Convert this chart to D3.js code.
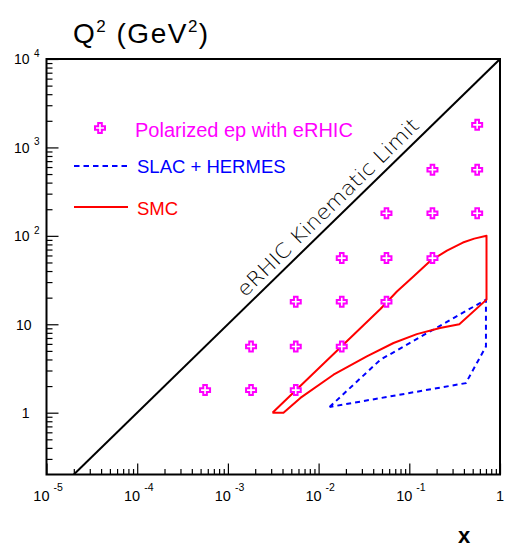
<!DOCTYPE html>
<html lang="en">
<head>
    <meta charset="UTF-8">
    <title>eRHIC kinematic coverage</title>
    <script src="https://d3js.org/d3.v7.min.js"></script>
    <style>
        body { margin: 0; background: #fff; }
        svg { font-family: "Liberation Sans", Arial, sans-serif; display: block; }
    </style>
</head>
<body>
    <svg id="chart" width="507" height="548"></svg>

    <script>
        // ---- data ----
        const xMajor = [1e-5, 1e-4, 1e-3, 1e-2, 1e-1, 1];
        const xLabelBase = ["10", "10", "10", "10", "10", "1"];
        const xLabelExp = ["-5", "-4", "-3", "-2", "-1", ""];

        const yMajor = [1, 10, 100, 1000, 10000];
        const yLabelBase = ["1", "10", "10", "10", "10"];
        const yLabelExp = ["", "", "2", "3", "4"];

        // eRHIC projected points (open crosses)
        const erhicX = [5.6e-4, 1.8e-3, 5.6e-3,
                        1.8e-3, 5.6e-3, 0.018,
                        5.6e-3, 0.018, 0.056,
                        0.018, 0.056, 0.18,
                        0.056, 0.18, 0.56,
                        0.18, 0.56,
                        0.56];
        const erhicQ2 = [1.8, 1.8, 1.8,
                         5.6, 5.6, 5.6,
                         18, 18, 18,
                         56, 56, 56,
                         180, 180, 180,
                         560, 560,
                         1800];

        // SMC region outline
        const smcX = [3.1e-3, 4.1e-3, 6.3e-3, 0.0146, 0.034, 0.067, 0.121, 0.218, 0.356, 0.71,
                      0.71, 0.52, 0.39, 0.26, 0.17, 0.111, 0.073, 0.048, 3.1e-3];
        const smcQ2 = [1.0, 1.0, 1.47, 2.69, 4.33, 6.14, 7.74, 9.06, 10.0, 19,
                       100, 93, 84, 68, 52, 34.7, 23.5, 14.9, 1.0];

        // SLAC + HERMES region outline
        const slacX = [0.0132, 0.048, 0.70, 0.70, 0.42, 0.0132];
        const slacQ2 = [1.16, 3.97, 19, 5.6, 2.16, 1.16];

        // kinematic limit Q2 = s * x
        const sEP = 1e4;
        const limitX = [2e-5, 1];

        const legendLabels = ["Polarized ep with eRHIC", "SLAC + HERMES", "SMC"];

        // ---- layout ----
        const svg = d3.select("#chart");
        const pLeft = 46.5, pRight = 500, pTop = 59, pBottom = 474.5;

        const x = d3.scaleLog().domain([1e-5, 1]).range([pLeft, pRight]);
        const y = d3.scaleLog().domain([0.2, 1e4]).range([pBottom, pTop]);

        const magenta = "#ff00ff", blue = "#0000ff", red = "#ff0000";

        // minor ticks 2..9 per decade
        const minors = (lo, hi) => {
            const out = [];
            for (let e = Math.floor(Math.log10(lo)); e < Math.ceil(Math.log10(hi)); e++)
                for (let k = 2; k <= 9; k++) {
                    const v = k * Math.pow(10, e);
                    if (v > lo * 1.01 && v < hi * 0.99) out.push(v);
                }
            return out;
        };

        // ---- axes (ticks inward) ----
        const gx = svg.append("g").attr("transform", `translate(0,${pBottom})`);
        gx.append("g").call(d3.axisBottom(x).tickValues(minors(1e-5, 1)).tickSize(-5.5).tickFormat(""));
        gx.append("g").call(d3.axisBottom(x).tickValues(xMajor).tickSize(-11).tickFormat(""));

        const gy = svg.append("g").attr("transform", `translate(${pLeft},0)`);
        gy.append("g").call(d3.axisLeft(y).tickValues(minors(0.2, 1e4)).tickSize(-6).tickFormat(""));
        gy.append("g").call(d3.axisLeft(y).tickValues(yMajor).tickSize(-12).tickFormat(""));

        svg.selectAll(".domain").remove();
        svg.selectAll(".tick line").attr("stroke", "#000").attr("stroke-width", 1.2);

        // frame
        svg.append("rect")
            .attr("x", pLeft).attr("y", pTop)
            .attr("width", pRight - pLeft).attr("height", pBottom - pTop)
            .attr("fill", "none").attr("stroke", "#000").attr("stroke-width", 2);

        // x tick labels
        xMajor.forEach((v, i) => {
            const px = x(v);
            if (xLabelExp[i]) {
                svg.append("text").attr("x", px + 3).attr("y", 500.7)
                    .attr("text-anchor", "end").attr("font-size", 14.5).text(xLabelBase[i]);
                svg.append("text").attr("x", px + 7).attr("y", 490.7)
                    .attr("font-size", 10.5).text(xLabelExp[i]);
            } else {
                svg.append("text").attr("x", px).attr("y", 500.7)
                    .attr("text-anchor", "middle").attr("font-size", 14.5).text(xLabelBase[i]);
            }
        });

        // y tick labels
        yMajor.forEach((v, i) => {
            const py = y(v);
            const hasExp = yLabelExp[i] !== "";
            svg.append("text").attr("x", hasExp ? 29.5 : (yLabelBase[i] === "1" ? 29.5 : 31.5))
                .attr("y", py + 5.3)
                .attr("text-anchor", "end").attr("font-size", 14).text(yLabelBase[i]);
            if (hasExp)
                svg.append("text").attr("x", 34).attr("y", py - 2.3)
                    .attr("font-size", 10).text(yLabelExp[i]);
        });

        // axis titles
        const title = svg.append("text").attr("x", 73).attr("y", 43)
            .attr("font-size", 28).attr("letter-spacing", 1.5);
        title.append("tspan").text("Q");
        title.append("tspan").attr("font-size", 17).attr("dy", -11).attr("dx", 0).text("2");
        title.append("tspan").attr("dy", 11).text(" (GeV");
        title.append("tspan").attr("font-size", 17).attr("dy", -11).attr("dx", 0).text("2");
        title.append("tspan").attr("dy", 11).text(")");

        svg.append("text").attr("x", 464).attr("y", 543)
            .attr("text-anchor", "middle").attr("font-size", 22).attr("font-weight", "bold")
            .text("x");

        // ---- plot area ----
        svg.append("clipPath").attr("id", "clip")
            .append("rect").attr("x", pLeft).attr("y", pTop)
            .attr("width", pRight - pLeft).attr("height", pBottom - pTop);
        const plot = svg.append("g").attr("clip-path", "url(#clip)");

        const line = d3.line().x(d => x(d[0])).y(d => y(d[1]));

        // kinematic limit
        plot.append("path")
            .datum(limitX.map(v => [v, sEP * v]))
            .attr("d", line).attr("fill", "none")
            .attr("stroke", "#000").attr("stroke-width", 2);

        // SLAC + HERMES
        plot.append("path")
            .datum(slacX.map((v, i) => [v, slacQ2[i]]))
            .attr("d", line).attr("fill", "none")
            .attr("stroke", blue).attr("stroke-width", 2)
            .attr("stroke-dasharray", "5,4");

        // SMC
        plot.append("path")
            .datum(smcX.map((v, i) => [v, smcQ2[i]]))
            .attr("d", line).attr("fill", "none")
            .attr("stroke", red).attr("stroke-width", 2)
            .attr("stroke-linejoin", "round");

        // open cross marker
        const crossPath = (s, a) =>
            `M${-a},${-s}H${a}V${-a}H${s}V${a}H${a}V${s}H${-a}V${a}H${-s}V${-a}H${-a}Z`;

        plot.selectAll(".pt")
            .data(erhicX.map((v, i) => [v, erhicQ2[i]]))
            .enter().append("path")
            .attr("class", "pt")
            .attr("transform", d => `translate(${x(d[0])},${y(d[1])})`)
            .attr("d", crossPath(5, 1.8))
            .attr("fill", "#fff").attr("stroke", magenta).attr("stroke-width", 2);

        // kinematic label along the line
        const ang = Math.atan2(y(sEP) - y(1), x(1) - x(1e-4)) * 180 / Math.PI;
        const lx = Math.pow(10, -1.79);
        const rad = ang * Math.PI / 180;
        const off = 7;
        const tx = x(lx) + off * Math.sin(rad), ty = y(sEP * lx) - off * Math.cos(rad);
        svg.append("text")
            .attr("transform", `translate(${tx},${ty}) rotate(${ang})`)
            .attr("text-anchor", "middle")
            .attr("font-family", "'DejaVu Sans', sans-serif")
            .attr("font-weight", 200)
            .attr("font-size", 20)
            .attr("textLength", 245).attr("lengthAdjust", "spacingAndGlyphs")
            .text("eRHIC Kinematic Limit");

        // ---- legend ----
        const lg = svg.append("g");
        lg.append("path").attr("transform", "translate(100,128)")
            .attr("d", crossPath(5, 1.8))
            .attr("fill", "#fff").attr("stroke", magenta).attr("stroke-width", 2);
        lg.append("text").attr("x", 135).attr("y", 137).attr("font-size", 20)
            .attr("fill", magenta).text(legendLabels[0]);

        lg.append("line").attr("x1", 74).attr("x2", 127).attr("y1", 166).attr("y2", 166)
            .attr("stroke", blue).attr("stroke-width", 2).attr("stroke-dasharray", "5.5,4");
        lg.append("text").attr("x", 137).attr("y", 173).attr("font-size", 18.5)
            .attr("fill", blue).text(legendLabels[1]);

        lg.append("line").attr("x1", 74).attr("x2", 128).attr("y1", 207).attr("y2", 207)
            .attr("stroke", red).attr("stroke-width", 2);
        lg.append("text").attr("x", 137).attr("y", 215).attr("font-size", 18.5)
            .attr("fill", red).text(legendLabels[2]);
    </script>
</body>
</html>
